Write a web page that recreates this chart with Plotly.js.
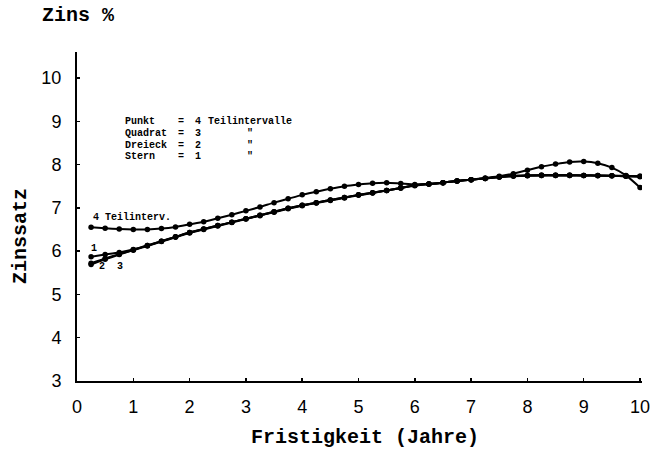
<!DOCTYPE html>
<html>
<head>
<meta charset="utf-8">
<script src="https://cdn.plot.ly/plotly-3.0.1.min.js"></script>
<style>html,body{margin:0;padding:0;background:#fff}#chart{width:656px;height:450px}</style>
</head>
<body>
<div id="chart"></div>
<script>
// Fristigkeit (years)
const years = [0.25,0.5,0.75,1.0,1.25,1.5,1.75,2.0,2.25,2.5,2.75,3.0,3.25,3.5,3.75,4.0,4.25,4.5,4.75,5.0,
               5.25,5.5,5.75,6.0,6.25,6.5,6.75,7.0,7.25,7.5,7.75,8.0,8.25,8.5,8.75,9.0,9.25,9.5,9.75,10.0];

// Punkt = 4 Teilintervalle
const punkt4 = [6.55,6.53,6.51,6.50,6.50,6.52,6.56,6.62,6.68,6.76,6.84,6.93,7.02,7.12,7.21,7.30,7.37,7.44,7.50,7.54,
                7.57,7.58,7.56,7.54,7.55,7.58,7.62,7.65,7.69,7.73,7.79,7.87,7.95,8.01,8.06,8.07,8.03,7.93,7.75,7.47];
// Quadrat = 3 Teilintervalle
const quadrat3 = [5.72,5.83,5.93,6.03,6.13,6.23,6.33,6.43,6.51,6.59,6.67,6.75,6.83,6.91,6.99,7.06,7.12,7.18,7.24,7.30,
                  7.35,7.40,7.46,7.52,7.55,7.58,7.62,7.65,7.68,7.71,7.74,7.75,7.75,7.75,7.75,7.75,7.74,7.74,7.73,7.73];
// Dreieck = 2 Teilintervalle
const dreieck2 = [5.69,5.81,5.92,6.02,6.12,6.22,6.32,6.42,6.50,6.58,6.66,6.74,6.82,6.90,6.98,7.05,7.11,7.17,7.23,7.29,
                  7.34,7.40,7.46,7.51,7.55,7.58,7.62,7.65,7.68,7.71,7.73,7.74,7.75,7.75,7.75,7.75,7.75,7.74,7.73,7.72];
// Stern = 1 Teilintervall
const stern1 = [5.87,5.92,5.97,6.04,6.13,6.23,6.33,6.43,6.51,6.59,6.67,6.75,6.83,6.91,6.99,7.06,7.12,7.18,7.24,7.30,
                7.35,7.40,7.46,7.52,7.55,7.58,7.62,7.65,7.68,7.71,7.74,7.75,7.76,7.76,7.76,7.75,7.75,7.74,7.74,7.73];

const xTicks = [0,1,2,3,4,5,6,7,8,9,10];
const xTickLabels = ["0","1","2","3","4","5","6","7","8","9","10"];
const yTicks = [3,4,5,6,7,8,9,10];
const yTickLabels = ["3","4","5","6","7","8","9","10"];

const legendNames = ["Punkt", "Quadrat", "Dreieck", "Stern"];
const legendCounts = ["4", "3", "2", "1"];
const legendUnits = ["Teilintervalle", "\"", "\"", "\""];
const curveLabels = ["1", "2", "3"];

const series = [punkt4, quadrat3, dreieck2, stern1];

const traces = series.map((ys, i) => ({
  x: years, y: ys, type: 'scatter', mode: 'lines+markers',
  line: {color: '#000', width: 2, shape: 'spline', smoothing: 0.6},
  marker: {color: '#000', size: 5.5, symbol: 'circle'},
  name: legendNames[i], showlegend: false, hoverinfo: 'skip'
}));

// plot area geometry in pixels
const L = 77, R = 14, T = 52, B = 69, W = 656, H = 450;
const pw = W - L - R, ph = H - T - B;
const px = x => (x - L) / pw;
const py = y => (H - B - y) / ph;

const mono = 'Liberation Mono, Courier New, monospace';
const nb = s => s.replace(/ /g, '\u00A0');
const ann = [];
const rowY = [122, 133.5, 145, 156.5];
legendNames.forEach((n, i) => {
  const f = {family: mono, size: 10, color: '#000', weight: 'bold'};
  ann.push({xref:'paper', yref:'paper', x:px(123), y:py(rowY[i]), xanchor:'left', yanchor:'middle', text:nb(n), showarrow:false, font:f});
  ann.push({xref:'paper', yref:'paper', x:px(176), y:py(rowY[i]), xanchor:'left', yanchor:'middle', text:'=', showarrow:false, font:f});
  ann.push({xref:'paper', yref:'paper', x:px(193), y:py(rowY[i]), xanchor:'left', yanchor:'middle', text:legendCounts[i], showarrow:false, font:f});
  ann.push({xref:'paper', yref:'paper', x:px(i === 0 ? 206 : 245), y:py(rowY[i]), xanchor:'left', yanchor:'middle',
            text:legendUnits[i], showarrow:false, font:f});
});
ann.push({xref:'paper', yref:'paper', x:px(91), y:py(217), xanchor:'left', yanchor:'middle', text:nb('4 Teilinterv.'), showarrow:false,
          font:{family: mono, size: 10, color:'#000', weight:'bold'}});
const clPos = [[94,248],[102,266],[120,266]];
curveLabels.forEach((t, i) => {
  ann.push({xref:'paper', yref:'paper', x:px(clPos[i][0]), y:py(clPos[i][1]), xanchor:'center', yanchor:'middle', text:t, showarrow:false,
            font:{family: mono, size: 10, color:'#000', weight:'bold'}});
});
// titles
ann.push({xref:'paper', yref:'paper', x:px(40), y:py(15), xanchor:'left', yanchor:'middle', text:nb('Zins %'), showarrow:false,
          font:{family: mono, size: 20, color:'#000', weight:'bold'}});
ann.push({xref:'paper', yref:'paper', x:px(365), y:py(437), xanchor:'center', yanchor:'middle', text:nb('Fristigkeit (Jahre)'), showarrow:false,
          font:{family: mono, size: 20, color:'#000', weight:'bold'}});
ann.push({xref:'paper', yref:'paper', x:px(20), y:py(236), xanchor:'center', yanchor:'middle', text:'Zinssatz', textangle:-90, showarrow:false,
          font:{family: mono, size: 20, color:'#000', weight:'bold'}});

const layout = {
  width: W, height: H,
  margin: {l: L, r: R, t: T, b: B, pad: 0},
  paper_bgcolor: '#fff', plot_bgcolor: '#fff',
  showlegend: false,
  xaxis: {
    range: [0, 10.035], tickvals: xTicks, ticktext: xTickLabels,
    showgrid: false, zeroline: false, showline: true, linecolor: '#000', linewidth: 2,
    ticks: 'inside', ticklen: 3, tickwidth: 1.5, tickcolor: '#000',
    tickfont: {family: 'Liberation Sans, Arial, sans-serif', size: 18, color: '#000'},
    ticklabelstandoff: 8
  },
  yaxis: {
    range: [3, 10.6], tickvals: yTicks, ticktext: yTickLabels,
    showgrid: false, zeroline: false, showline: true, linecolor: '#000', linewidth: 2,
    ticks: 'inside', ticklen: 3, tickwidth: 1.5, tickcolor: '#000',
    tickfont: {family: 'Liberation Sans, Arial, sans-serif', size: 18, color: '#000'},
    ticklabelstandoff: 10
  },
  annotations: ann
};

Plotly.newPlot('chart', traces, layout, {displayModeBar: false, staticPlot: true});
</script>
</body>
</html>
